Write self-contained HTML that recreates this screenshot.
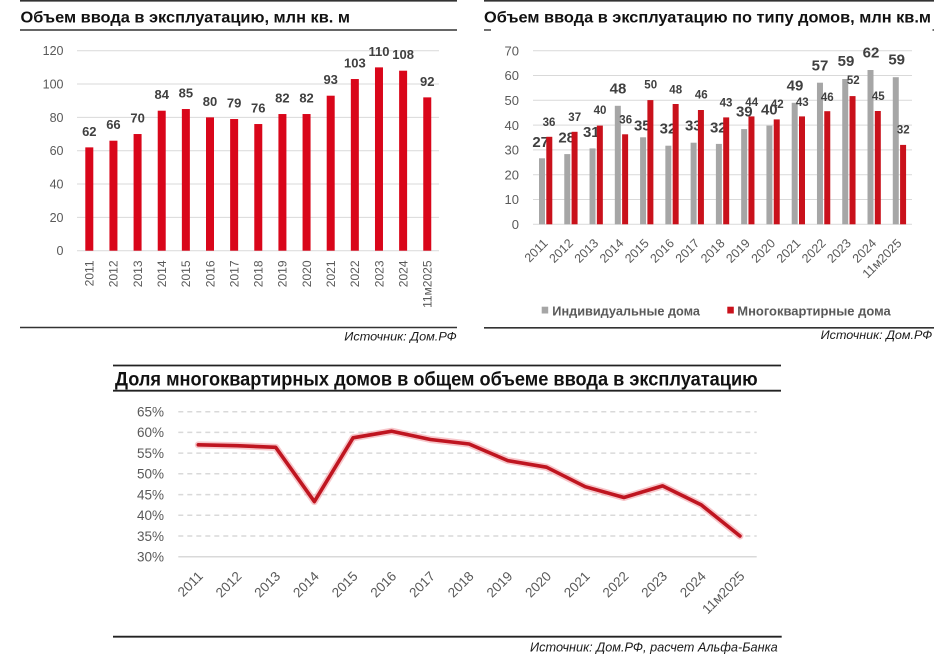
<!DOCTYPE html>
<html><head><meta charset="utf-8"><style>
html,body{margin:0;padding:0;background:#fff;}
svg{display:block;}
text{font-family:"Liberation Sans","DejaVu Sans",sans-serif;}
</style></head><body>
<svg width="944" height="665" viewBox="0 0 944 665" xmlns="http://www.w3.org/2000/svg">
<rect width="944" height="665" fill="#fff"/>

<!-- ============ CHART 1 ============ -->
<line x1="20" y1="0.8" x2="457" y2="0.8" stroke="#333" stroke-width="1.6"/>
<text x="20.5" y="22.5" font-size="16" font-weight="bold" fill="#111" textLength="329.5" lengthAdjust="spacingAndGlyphs">Объем ввода в эксплуатацию, млн кв. м</text>
<line x1="20" y1="30" x2="457" y2="30" stroke="#333" stroke-width="1.6"/>

<g stroke="#d9d9d9" stroke-width="1">
<line x1="77" y1="50.7" x2="439" y2="50.7"/>
<line x1="77" y1="84" x2="439" y2="84"/>
<line x1="77" y1="117.4" x2="439" y2="117.4"/>
<line x1="77" y1="150.7" x2="439" y2="150.7"/>
<line x1="77" y1="184" x2="439" y2="184"/>
<line x1="77" y1="217.4" x2="439" y2="217.4"/>
<line x1="77" y1="250.7" x2="439" y2="250.7"/>
</g>
<g font-size="12.5" fill="#595959" text-anchor="end">
<text x="63.5" y="55.2">120</text>
<text x="63.5" y="88.5">100</text>
<text x="63.5" y="121.9">80</text>
<text x="63.5" y="155.2">60</text>
<text x="63.5" y="188.5">40</text>
<text x="63.5" y="221.9">20</text>
<text x="63.5" y="255.2">0</text>
</g>
<g fill="#d9061a">
<rect x="85.3" y="147.37" width="8" height="103.33"/>
<rect x="109.44" y="140.7" width="8" height="110"/>
<rect x="133.58" y="134.03" width="8" height="116.67"/>
<rect x="157.72" y="110.7" width="8" height="140"/>
<rect x="181.86" y="109.03" width="8" height="141.67"/>
<rect x="206" y="117.37" width="8" height="133.33"/>
<rect x="230.14" y="119.03" width="8" height="131.67"/>
<rect x="254.28" y="124.03" width="8" height="126.67"/>
<rect x="278.42" y="114.03" width="8" height="136.67"/>
<rect x="302.56" y="114.03" width="8" height="136.67"/>
<rect x="326.7" y="95.7" width="8" height="155"/>
<rect x="350.84" y="79.03" width="8" height="171.67"/>
<rect x="374.98" y="67.37" width="8" height="183.33"/>
<rect x="399.12" y="70.7" width="8" height="180"/>
<rect x="423.26" y="97.37" width="8" height="153.33"/>
</g>
<g font-size="13" font-weight="bold" fill="#404040" text-anchor="middle">
<text x="89.3" y="135.77">62</text>
<text x="113.44" y="129.1">66</text>
<text x="137.58" y="122.43">70</text>
<text x="161.72" y="99.1">84</text>
<text x="185.86" y="97.43">85</text>
<text x="210" y="105.77">80</text>
<text x="234.14" y="107.43">79</text>
<text x="258.28" y="112.43">76</text>
<text x="282.42" y="102.43">82</text>
<text x="306.56" y="102.43">82</text>
<text x="330.7" y="84.1">93</text>
<text x="354.84" y="67.43">103</text>
<text x="378.98" y="55.77">110</text>
<text x="403.12" y="59.1">108</text>
<text x="427.26" y="85.77">92</text>
</g>
<g font-size="12" fill="#595959" text-anchor="end">
<text transform="translate(93.6,260.5) rotate(-90)">2011</text>
<text transform="translate(117.74,260.5) rotate(-90)">2012</text>
<text transform="translate(141.88,260.5) rotate(-90)">2013</text>
<text transform="translate(166.02,260.5) rotate(-90)">2014</text>
<text transform="translate(190.16,260.5) rotate(-90)">2015</text>
<text transform="translate(214.3,260.5) rotate(-90)">2016</text>
<text transform="translate(238.44,260.5) rotate(-90)">2017</text>
<text transform="translate(262.58,260.5) rotate(-90)">2018</text>
<text transform="translate(286.72,260.5) rotate(-90)">2019</text>
<text transform="translate(310.86,260.5) rotate(-90)">2020</text>
<text transform="translate(335,260.5) rotate(-90)">2021</text>
<text transform="translate(359.14,260.5) rotate(-90)">2022</text>
<text transform="translate(383.28,260.5) rotate(-90)">2023</text>
<text transform="translate(407.42,260.5) rotate(-90)">2024</text>
<text transform="translate(431.56,260.5) rotate(-90)">11м2025</text>
</g>
<line x1="20" y1="327.5" x2="457" y2="327.5" stroke="#333" stroke-width="1.6"/>
<text x="456.7" y="340.5" font-size="12" font-style="italic" fill="#1a1a1a" text-anchor="end" textLength="112.4" lengthAdjust="spacingAndGlyphs">Источник: Дом.РФ</text>

<!-- ============ CHART 2 ============ -->
<line x1="484" y1="0.8" x2="934" y2="0.8" stroke="#333" stroke-width="1.6"/>
<text x="484" y="22.7" font-size="16" font-weight="bold" fill="#111" textLength="447" lengthAdjust="spacingAndGlyphs">Объем ввода в эксплуатацию по типу домов, млн кв.м</text>
<line x1="484" y1="30" x2="491" y2="30" stroke="#333" stroke-width="1.4"/>
<line x1="932.5" y1="30" x2="934" y2="30" stroke="#333" stroke-width="1.4"/>

<g stroke="#d9d9d9" stroke-width="1">
<line x1="533" y1="50.7" x2="912" y2="50.7"/>
<line x1="533" y1="75.5" x2="912" y2="75.5"/>
<line x1="533" y1="100.3" x2="912" y2="100.3"/>
<line x1="533" y1="125.1" x2="912" y2="125.1"/>
<line x1="533" y1="149.9" x2="912" y2="149.9"/>
<line x1="533" y1="174.7" x2="912" y2="174.7"/>
<line x1="533" y1="199.5" x2="912" y2="199.5"/>
<line x1="533" y1="224.3" x2="912" y2="224.3"/>
</g>
<g font-size="13" fill="#595959" text-anchor="end">
<text x="519" y="55.4">70</text>
<text x="519" y="80.2">60</text>
<text x="519" y="105">50</text>
<text x="519" y="129.8">40</text>
<text x="519" y="154.6">30</text>
<text x="519" y="179.4">20</text>
<text x="519" y="204.2">10</text>
<text x="519" y="229">0</text>
</g>
<g fill="#a6a6a6">
<rect x="539" y="158.3" width="6" height="66"/>
<rect x="564.27" y="154.1" width="6" height="70.2"/>
<rect x="589.54" y="148.4" width="6" height="75.9"/>
<rect x="614.81" y="105.8" width="6" height="118.5"/>
<rect x="640.08" y="137.3" width="6" height="87"/>
<rect x="665.35" y="145.7" width="6" height="78.6"/>
<rect x="690.62" y="142.7" width="6" height="81.6"/>
<rect x="715.89" y="143.9" width="6" height="80.4"/>
<rect x="741.16" y="129.1" width="6" height="95.2"/>
<rect x="766.43" y="125.6" width="6" height="98.7"/>
<rect x="791.7" y="102.8" width="6" height="121.5"/>
<rect x="816.97" y="82.7" width="6" height="141.6"/>
<rect x="842.24" y="79" width="6" height="145.3"/>
<rect x="867.51" y="70" width="6" height="154.3"/>
<rect x="892.78" y="77.2" width="6" height="147.1"/>
</g>
<g font-size="15" font-weight="bold" fill="#404040" text-anchor="middle">
<text x="540.7" y="147">27</text>
<text x="566.7" y="142.6">28</text>
<text x="591.3" y="137">31</text>
<text x="618" y="93.6">48</text>
<text x="642.3" y="130.3">35</text>
<text x="668" y="133.6">32</text>
<text x="693.3" y="130.3">33</text>
<text x="718.3" y="132.6">32</text>
<text x="744.3" y="116.3">39</text>
<text x="769.3" y="114.3">40</text>
<text x="795" y="90.3">49</text>
<text x="820" y="70.3">57</text>
<text x="846" y="66">59</text>
<text x="871" y="57.6">62</text>
<text x="896.7" y="64.3">59</text>
</g>
<g fill="#c9111b">
<rect x="546.3" y="136.8" width="6" height="87.5"/>
<rect x="571.57" y="131.8" width="6" height="92.5"/>
<rect x="596.84" y="125.6" width="6" height="98.7"/>
<rect x="622.11" y="134.3" width="6" height="90"/>
<rect x="647.38" y="100.1" width="6" height="124.2"/>
<rect x="672.65" y="104" width="6" height="120.3"/>
<rect x="697.92" y="110" width="6" height="114.3"/>
<rect x="723.19" y="117.4" width="6" height="106.9"/>
<rect x="748.46" y="116.4" width="6" height="107.9"/>
<rect x="773.73" y="119.4" width="6" height="104.9"/>
<rect x="799" y="116.4" width="6" height="107.9"/>
<rect x="824.27" y="111.2" width="6" height="113.1"/>
<rect x="849.54" y="96.1" width="6" height="128.2"/>
<rect x="874.81" y="111" width="6" height="113.3"/>
<rect x="900.08" y="144.9" width="6" height="79.4"/>
</g>
<g font-size="11.5" font-weight="bold" fill="#404040" text-anchor="middle">
<text x="549" y="125.8">36</text>
<text x="574.7" y="120.8">37</text>
<text x="600" y="114.1">40</text>
<text x="625.7" y="123.4">36</text>
<text x="650.7" y="88.4">50</text>
<text x="675.7" y="93.4">48</text>
<text x="701.3" y="98.4">46</text>
<text x="726" y="106.4">43</text>
<text x="751.7" y="105.8">44</text>
<text x="777.3" y="108.1">42</text>
<text x="802.3" y="105.8">43</text>
<text x="827.3" y="100.8">46</text>
<text x="853.3" y="84.1">52</text>
<text x="878.3" y="100.1">45</text>
<text x="903.3" y="133.4">32</text>
</g>
<g font-size="12.5" fill="#595959" text-anchor="end">
<text transform="translate(548.6,244) rotate(-45)">2011</text>
<text transform="translate(573.87,244) rotate(-45)">2012</text>
<text transform="translate(599.14,244) rotate(-45)">2013</text>
<text transform="translate(624.41,244) rotate(-45)">2014</text>
<text transform="translate(649.68,244) rotate(-45)">2015</text>
<text transform="translate(674.95,244) rotate(-45)">2016</text>
<text transform="translate(700.22,244) rotate(-45)">2017</text>
<text transform="translate(725.49,244) rotate(-45)">2018</text>
<text transform="translate(750.76,244) rotate(-45)">2019</text>
<text transform="translate(776.03,244) rotate(-45)">2020</text>
<text transform="translate(801.3,244) rotate(-45)">2021</text>
<text transform="translate(826.57,244) rotate(-45)">2022</text>
<text transform="translate(851.84,244) rotate(-45)">2023</text>
<text transform="translate(877.11,244) rotate(-45)">2024</text>
<text transform="translate(902.38,244) rotate(-45)">11м2025</text>
</g>
<rect x="541.7" y="306.7" width="6.5" height="6.8" fill="#a6a6a6"/>
<text x="552.3" y="315.3" font-size="13" font-weight="bold" fill="#595959" textLength="147.7" lengthAdjust="spacingAndGlyphs">Индивидуальные дома</text>
<rect x="727.3" y="306.7" width="6.5" height="6.8" fill="#c9111b"/>
<text x="737.3" y="315.3" font-size="13" font-weight="bold" fill="#595959" textLength="153.4" lengthAdjust="spacingAndGlyphs">Многоквартирные дома</text>
<line x1="484" y1="327.8" x2="934" y2="327.8" stroke="#333" stroke-width="1.6"/>
<text x="932.3" y="339" font-size="12" font-style="italic" fill="#1a1a1a" text-anchor="end" textLength="111.6" lengthAdjust="spacingAndGlyphs">Источник: Дом.РФ</text>

<!-- ============ CHART 3 ============ -->
<line x1="113" y1="365.5" x2="781" y2="365.5" stroke="#222" stroke-width="1.8"/>
<text x="115" y="385.7" font-size="19" font-weight="bold" fill="#111" textLength="642.7" lengthAdjust="spacingAndGlyphs" style="font-family:'Liberation Sans Narrow','Liberation Sans',sans-serif">Доля многоквартирных домов в общем объеме ввода в эксплуатацию</text>
<line x1="113" y1="390.7" x2="781" y2="390.7" stroke="#222" stroke-width="1.8"/>

<g stroke="#d9d9d9" stroke-width="1.5" stroke-dasharray="5,4">
<line x1="178.3" y1="411.7" x2="756.7" y2="411.7"/>
<line x1="178.3" y1="432.4" x2="756.7" y2="432.4"/>
<line x1="178.3" y1="453.1" x2="756.7" y2="453.1"/>
<line x1="178.3" y1="473.8" x2="756.7" y2="473.8"/>
<line x1="178.3" y1="494.6" x2="756.7" y2="494.6"/>
<line x1="178.3" y1="515.3" x2="756.7" y2="515.3"/>
<line x1="178.3" y1="536" x2="756.7" y2="536"/>
</g>
<line x1="178.3" y1="556.7" x2="756.7" y2="556.7" stroke="#d9d9d9" stroke-width="1.5"/>
<g font-size="13.5" fill="#595959" text-anchor="end">
<text x="164" y="416.5">65%</text>
<text x="164" y="437.2">60%</text>
<text x="164" y="457.9">55%</text>
<text x="164" y="478.6">50%</text>
<text x="164" y="499.4">45%</text>
<text x="164" y="520.1">40%</text>
<text x="164" y="540.8">35%</text>
<text x="164" y="561.5">30%</text>
</g>
<polyline fill="none" stroke="#f2a0a6" stroke-opacity="0.6" stroke-width="7" stroke-linejoin="round" stroke-linecap="round"
 points="198.3,444.84 236.99,445.67 275.68,447.32 314.37,501.6 353.06,437.8 391.75,431.2 430.44,439.5 469.13,444 507.82,460.6 546.51,467.2 585.2,486.7 623.89,497.5 662.58,485.9 701.27,504.9 739.96,536"/>
<polyline fill="none" stroke="#bf1520" stroke-width="3.6" stroke-linejoin="round" stroke-linecap="round"
 points="198.3,444.84 236.99,445.67 275.68,447.32 314.37,501.6 353.06,437.8 391.75,431.2 430.44,439.5 469.13,444 507.82,460.6 546.51,467.2 585.2,486.7 623.89,497.5 662.58,485.9 701.27,504.9 739.96,536"/>
<g font-size="13.5" fill="#595959" text-anchor="end">
<text transform="translate(203.8,577) rotate(-45)">2011</text>
<text transform="translate(242.49,577) rotate(-45)">2012</text>
<text transform="translate(281.18,577) rotate(-45)">2013</text>
<text transform="translate(319.87,577) rotate(-45)">2014</text>
<text transform="translate(358.56,577) rotate(-45)">2015</text>
<text transform="translate(397.25,577) rotate(-45)">2016</text>
<text transform="translate(435.94,577) rotate(-45)">2017</text>
<text transform="translate(474.63,577) rotate(-45)">2018</text>
<text transform="translate(513.32,577) rotate(-45)">2019</text>
<text transform="translate(552.01,577) rotate(-45)">2020</text>
<text transform="translate(590.7,577) rotate(-45)">2021</text>
<text transform="translate(629.39,577) rotate(-45)">2022</text>
<text transform="translate(668.08,577) rotate(-45)">2023</text>
<text transform="translate(706.77,577) rotate(-45)">2024</text>
<text transform="translate(745.46,577) rotate(-45)">11м2025</text>
</g>
<line x1="113" y1="636.7" x2="781.7" y2="636.7" stroke="#222" stroke-width="1.8"/>
<text x="777.7" y="651.5" font-size="12.5" font-style="italic" fill="#1a1a1a" text-anchor="end" textLength="247.7" lengthAdjust="spacingAndGlyphs">Источник: Дом.РФ, расчет Альфа-Банка</text>
</svg>
</body></html>
